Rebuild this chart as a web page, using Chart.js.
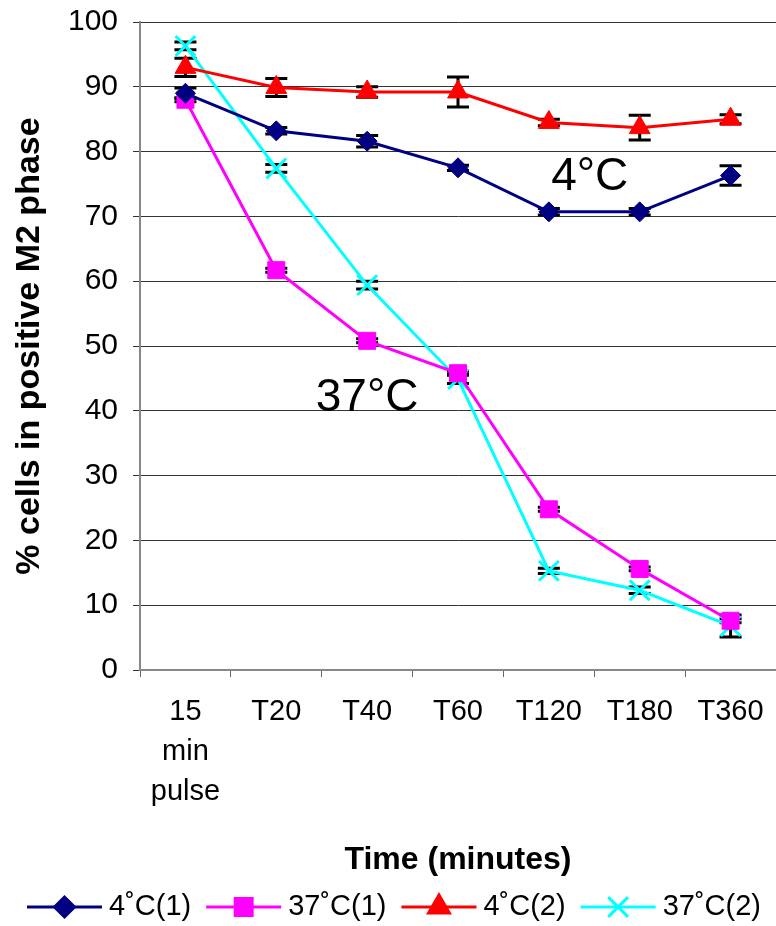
<!DOCTYPE html>
<html><head><meta charset="utf-8">
<script src="https://cdn.jsdelivr.net/npm/chart.js@4.4.1/dist/chart.umd.min.js"></script>
<style>html,body{margin:0;padding:0;background:#fff;}</style>
</head><body>
<canvas id="c" width="776" height="926" style="width:776px;height:926px;display:block"></canvas>
<script>
// ---- data ----
const categories = [['15','min','pulse'], 'T20', 'T40', 'T60', 'T120', 'T180', 'T360'];
const seriesNames = ['4˚C(1)', '37˚C(1)', '4˚C(2)', '37˚C(2)'];
const c4_1  = [89.0, 83.2, 81.6, 77.5, 70.7, 70.7, 76.3];
const c37_1 = [88.0, 61.7, 50.8, 45.8, 24.8, 15.6, 7.6];
const c4_2  = [93.0, 89.9, 89.2, 89.2, 84.5, 83.7, 85.0];
const c37_2 = [96.3, 77.4, 59.4, 44.9, 15.3, 12.3, 6.8];
const err4_1  = [0.8, 0.5, 0.9, 0.4, 0.5, 0.5, 1.5];
const err37_1 = [0.3, 0.3, 0.3, 0.3, 0.3, 0.3, 0.3];
const err4_2  = [1.4, 1.4, 0.8, 2.3, 0.5, 1.9, 0.7];
const err37_2 = [0.6, 0.6, 0.6, 0.7, 0.4, 0.5, 1.7];
const yMin = 0, yMax = 100, yStep = 10;
const xTitle = 'Time (minutes)';
const yTitle = '% cells in positive M2 phase';
const notes = [ {text: '4°C', x: 4.45, y: 76.0}, {text: '37°C', x: 2.0, y: 42.0} ];

const colors = ['#000080', '#FF00FF', '#FF0000', '#00FFFF'];
const styles = ['rectRot', 'rect', 'triangle', 'crossRot'];
const radii = [10, 12, 12, 14];
const values = [c4_1, c37_1, c4_2, c37_2];
const errors = [err4_1, err37_1, err4_2, err37_2];
const FONT = '"Liberation Sans", Arial, sans-serif';

const errorBarPlugin = {
  id: 'errorBars',
  beforeDatasetsDraw(chart) {
    const ctx = chart.ctx, xs = chart.scales.x, ys = chart.scales.y;
    ctx.save();
    ctx.strokeStyle = '#000'; ctx.lineWidth = 3;
    errors.forEach((errs, di) => {
      errs.forEach((e, i) => {
        const v = values[di][i];
        const x = xs.getPixelForValue(i);
        const y1 = ys.getPixelForValue(v - e), y2 = ys.getPixelForValue(v + e);
        ctx.beginPath();
        ctx.moveTo(x, y1); ctx.lineTo(x, y2);
        ctx.moveTo(x - 11, y1); ctx.lineTo(x + 11, y1);
        ctx.moveTo(x - 11, y2); ctx.lineTo(x + 11, y2);
        ctx.stroke();
      });
    });
    ctx.restore();
  },
  afterDatasetsDraw(chart) {
    const ctx = chart.ctx, xs = chart.scales.x, ys = chart.scales.y;
    ctx.save();
    ctx.fillStyle = '#000';
    ctx.font = '46px ' + FONT;
    ctx.textAlign = 'center'; ctx.textBaseline = 'middle';
    notes.forEach(n => ctx.fillText(n.text, xs.getPixelForValue(n.x), ys.getPixelForValue(n.y)));
    ctx.restore();
  },
  afterDraw(chart) {
    // legend: line + marker swatch followed by label
    const ctx = chart.ctx;
    ctx.save();
    ctx.font = '29px ' + FONT;
    ctx.textBaseline = 'middle'; ctx.textAlign = 'left';
    let x = 27; const y = 907;
    seriesNames.forEach((name, i) => {
      ctx.strokeStyle = colors[i]; ctx.lineWidth = 3;
      ctx.beginPath(); ctx.moveTo(x, y); ctx.lineTo(x + 75, y); ctx.stroke();
      ctx.fillStyle = colors[i];
      Chart.helpers.drawPoint(ctx, {pointStyle: styles[i], radius: radii[i], rotation: 0, borderWidth: i === 3 ? 3 : 1}, x + 37.5, y);
      ctx.fillStyle = '#000';
      ctx.fillText(name, x + 82, y);
      x += 82 + ctx.measureText(name).width + 15;
    });
    ctx.restore();
  }
};

new Chart(document.getElementById('c'), {
  type: 'line',
  data: {
    labels: categories,
    datasets: seriesNames.map((name, i) => ({
      label: name,
      data: values[i],
      borderColor: colors[i],
      backgroundColor: colors[i],
      pointBackgroundColor: colors[i],
      pointBorderColor: colors[i],
      pointStyle: styles[i],
      pointRadius: radii[i],
      pointBorderWidth: i === 3 ? 3 : 1,
      borderWidth: 3,
      tension: 0,
      fill: false,
      clip: false
    }))
  },
  options: {
    responsive: false,
    animation: false,
    layout: {autoPadding: false, padding: {top: 22, right: 0, left: 0, bottom: 47}},
    plugins: {
      tooltip: {enabled: false},
      legend: {display: false}
    },
    scales: {
      x: {
        type: 'category',
        offset: true,
        grid: {offset: true, drawOnChartArea: false, drawTicks: true, tickLength: 7, color: '#666', lineWidth: 1},
        border: {color: '#888', width: 2},
        ticks: {color: '#000', font: {family: FONT, size: 29, lineHeight: 1.38}, padding: 15, maxRotation: 0, autoSkip: false},
        title: {display: true, text: xTitle, color: '#000', font: {family: FONT, size: 32, weight: 'bold'}, padding: {top: 0, bottom: 0}},
        afterFit(s) { s.height = 209; s.paddingLeft = 0; s.paddingRight = 0; }
      },
      y: {
        min: yMin, max: yMax,
        grid: {color: '#333', lineWidth: 1, tickLength: 7, drawTicks: true},
        border: {color: '#888', width: 2},
        ticks: {stepSize: yStep, color: '#000', font: {family: FONT, size: 30}, padding: 15},
        title: {display: true, text: yTitle, color: '#000', font: {family: FONT, size: 34, weight: 'bold'}, padding: {top: 9, bottom: 0}},
        afterFit(s) { s.width = 140; s.paddingTop = 0; s.paddingBottom = 0; }
      }
    }
  },
  plugins: [errorBarPlugin]
});
</script>
</body></html>
